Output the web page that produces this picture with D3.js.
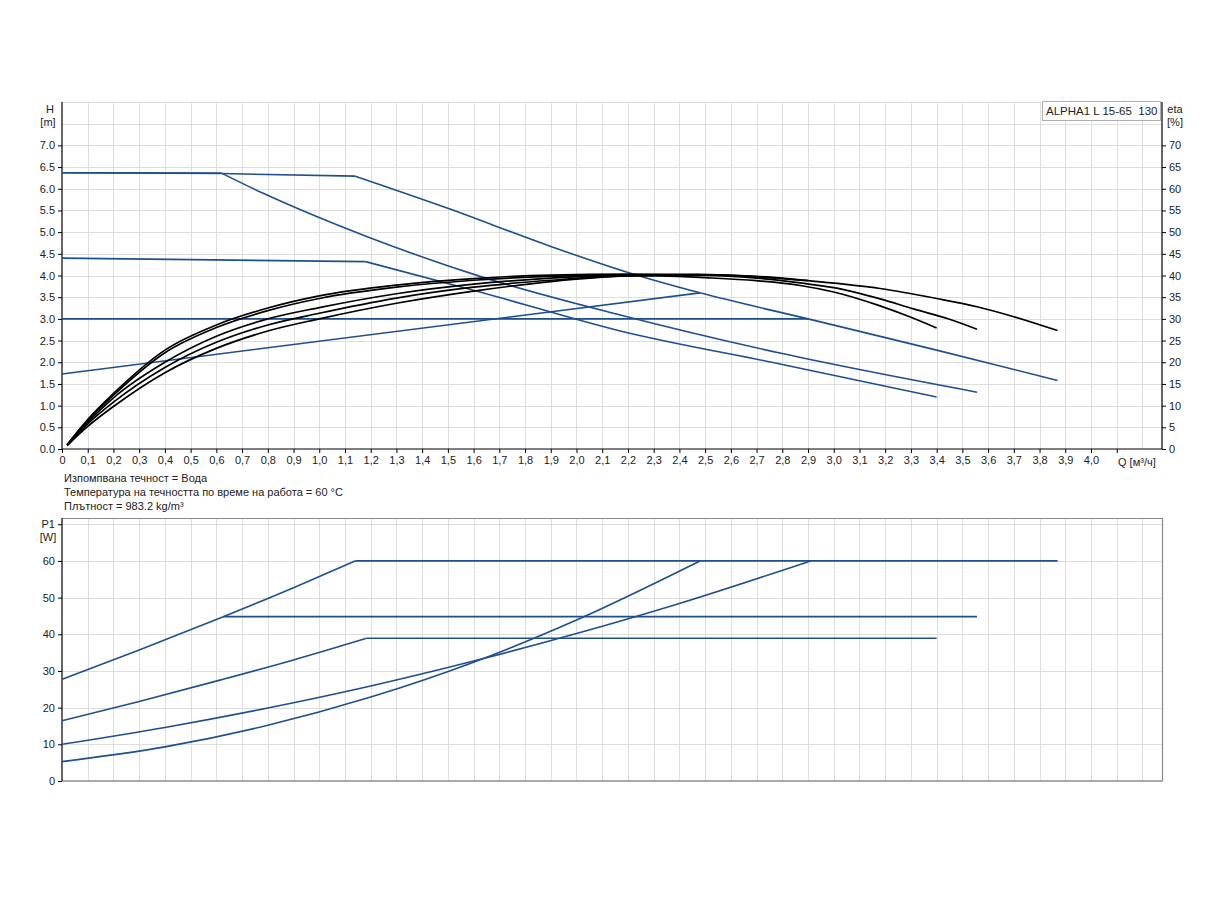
<!DOCTYPE html>
<html>
<head>
<meta charset="utf-8">
<script src="https://cdn.jsdelivr.net/npm/d3@7"></script>
<style>
  html, body { margin: 0; padding: 0; background: #fff; }
  svg { display: block; font-family: "Liberation Sans", Arial, sans-serif; }
</style>
</head>
<body>
<svg id="chart" width="1224" height="900"></svg>
<script>
// ---------- DATA ----------
const qTickValues = [0,0.1,0.2,0.3,0.4,0.5,0.6,0.7,0.8,0.9,1.0,1.1,1.2,1.3,1.4,1.5,1.6,1.7,1.8,1.9,2.0,2.1,2.2,2.3,2.4,2.5,2.6,2.7,2.8,2.9,3.0,3.1,3.2,3.3,3.4,3.5,3.6,3.7,3.8,3.9,4.0,4.1];
const qTickLabels = ["0","0,1","0,2","0,3","0,4","0,5","0,6","0,7","0,8","0,9","1,0","1,1","1,2","1,3","1,4","1,5","1,6","1,7","1,8","1,9","2,0","2,1","2,2","2,3","2,4","2,5","2,6","2,7","2,8","2,9","3,0","3,1","3,2","3,3","3,4","3,5","3,6","3,7","3,8","3,9","4,0",""];
const qGrid = [0.1,0.2,0.3,0.4,0.5,0.6,0.7,0.8,0.9,1.0,1.1,1.2,1.3,1.4,1.5,1.6,1.7,1.8,1.9,2.0,2.1,2.2,2.3,2.4,2.5,2.6,2.7,2.8,2.9,3.0,3.1,3.2,3.3,3.4,3.5,3.6,3.7,3.8,3.9,4.0,4.1,4.2];
const hTicks = [0,0.5,1.0,1.5,2.0,2.5,3.0,3.5,4.0,4.5,5.0,5.5,6.0,6.5,7.0];
const hGrid = [0.5,1.0,1.5,2.0,2.5,3.0,3.5,4.0,4.5,5.0,5.5,6.0,6.5,7.0,7.5,8.0];
const etaTicks = [0,5,10,15,20,25,30,35,40,45,50,55,60,65,70];
const pTicks = [0,10,20,30,40,50,60];
const pGrid = [10,20,30,40,50,60,70];

// H-Q curves [Q, H]
const h1Flat = [[0,6.37],[0.62,6.35],[1.14,6.29]];
const h1Drop = [[1.14,6.29],[1.5,5.55],[1.9,4.67],[2.2,4.07],[2.48,3.60],[2.90,3.00],[3.4,2.28],[3.87,1.58]];
const h2Flat = [[0,6.37],[0.62,6.36]];
const h2Drop = [[0.62,6.36],[0.78,5.90],[0.925,5.52],[1.184,4.90],[1.625,3.98],[2.17,3.09],[2.8,2.20],[3.557,1.31]];
const h3Flat = [[0,4.40],[1.18,4.32]];
const h3Drop = [[1.18,4.32],[1.625,3.62],[2.17,2.72],[2.8,1.95],[3.40,1.20]];
const hConst = [[0,3.0],[2.90,3.0]];
const hProp = [[0,1.73],[2.48,3.60]];

// efficiency curves [Q, eta %]
const etaMax = [[0.02,0.8],[0.1,5.2],[0.2,9.8],[0.4,17.6],[0.6,23.2],[0.8,27.2],[1.0,30.0],[1.3,33.6],[1.6,36.4],[1.9,38.6],[2.2,39.9],[2.48,40.2],[2.7,39.8],[2.90,38.8],[3.18,37.0],[3.4,34.7],[3.557,32.8],[3.7,30.5],[3.87,27.3]];
const etaMid = [[0.02,0.9],[0.1,5.8],[0.2,10.8],[0.4,18.8],[0.6,24.6],[0.8,28.6],[1.0,31.3],[1.3,34.8],[1.6,37.3],[1.9,38.9],[2.2,39.9],[2.5,40.0],[2.7,39.4],[2.87,38.3],[3.0,37.2],[3.18,34.6],[3.31,32.3],[3.45,29.9],[3.557,27.6]];
const etaLow = [[0.02,1.0],[0.1,6.6],[0.2,12.4],[0.4,22.2],[0.6,28.0],[0.8,31.9],[1.0,34.7],[1.3,37.3],[1.6,38.9],[1.9,39.8],[2.2,40.1],[2.5,39.5],[2.7,38.8],[2.87,37.7],[3.0,36.2],[3.18,33.0],[3.29,30.6],[3.40,27.9]];
const etaConst = [[0.02,0.9],[0.1,6.2],[0.2,11.8],[0.4,20.0],[0.6,26.0],[0.8,30.0],[1.0,32.6],[1.3,35.8],[1.6,38.0],[1.9,39.4],[2.2,40.1],[2.5,40.2],[2.7,39.7],[2.90,38.8]];
const etaProp = [[0.02,1.0],[0.1,6.8],[0.2,12.8],[0.4,22.8],[0.6,28.6],[0.8,32.5],[1.0,35.3],[1.3,37.8],[1.6,39.3],[1.9,40.1],[2.2,40.3],[2.48,40.2]];

// power curves [Q, P1 W]
const p1Rise = [[0,27.7],[0.3,35.7],[0.627,44.8],[0.9,52.7],[1.14,60.0]];
const p1Flat = [[1.14,60.0],[3.87,60.0]];
const p2Flat = [[0.627,44.8],[3.557,44.8]];
const p3Rise = [[0,16.45],[0.3,21.7],[0.614,27.5],[0.9,33.0],[1.184,38.9]];
const p3Flat = [[1.184,38.9],[3.40,38.9]];
const pConst = [[0,10.0],[0.4,14.6],[0.8,19.9],[1.2,25.9],[1.6,32.7],[2.0,40.2],[2.4,48.4],[2.91,60.0]];
const pProp = [[0,5.27],[0.4,9.3],[0.8,15.2],[1.2,22.9],[1.6,32.4],[2.0,43.9],[2.48,60.0]];

const noteLines = ["Изпомпвана течност = Вода", "Температура на течността по време на работа = 60 °C", "Плътност = 983.2 kg/m³"];
const legendText = "ALPHA1 L 15-65  130";

// ---------- LAYOUT ----------
const svg = d3.select("#chart");
const L = 62, R = 1162;
const topT = 102, topB = 449;
const botT = 518, botB = 781;
const BLUE = "#1e4f8e";
const GRID = "#dedede";
const FONT = 11;

const x = d3.scaleLinear().domain([0, 4.276]).range([L, R]);
const yH = d3.scaleLinear().domain([0, 8]).range([topB, topT]);
const yEta = d3.scaleLinear().domain([0, 80]).range([topB, topT]);
const yP = d3.scaleLinear().domain([0, 71.7]).range([botB, botT]);

// ---------- TOP CHART ----------
const gTop = svg.append("g");
gTop.append("g").selectAll("line").data(qGrid).join("line")
  .attr("x1", d => Math.round(x(d)) + 0.5).attr("x2", d => Math.round(x(d)) + 0.5)
  .attr("y1", topT).attr("y2", topB).attr("stroke", GRID).attr("stroke-width", 1);
gTop.append("g").selectAll("line").data(hGrid).join("line")
  .attr("x1", L).attr("x2", R)
  .attr("y1", d => Math.round(yH(d)) + 0.5).attr("y2", d => Math.round(yH(d)) + 0.5)
  .attr("stroke", GRID).attr("stroke-width", 1);

// axes
const axL = d3.axisLeft(yH).tickValues(hTicks).tickFormat(d3.format(".1f")).tickSize(4).tickPadding(3);
const gL = gTop.append("g").attr("transform", `translate(${L},0)`).call(axL);
const axR = d3.axisRight(yEta).tickValues(etaTicks).tickFormat(d3.format("d")).tickSize(4).tickPadding(3);
const gR = gTop.append("g").attr("transform", `translate(${R},0)`).call(axR);
const axB = d3.axisBottom(x).tickValues(qTickValues).tickFormat((d, i) => qTickLabels[i]).tickSize(4).tickPadding(3);
const gB = gTop.append("g").attr("transform", `translate(0,${topB})`).call(axB);
[gL, gR, gB].forEach(g => {
  g.select(".domain").attr("stroke", "#000").attr("stroke-width", 1.2);
  g.selectAll(".tick line").attr("stroke", "#000");
  g.selectAll("text").attr("font-size", FONT).attr("fill", "#222").attr("font-family", '"Liberation Sans", Arial, sans-serif');
});
gL.select(".domain").attr("d", `M0,${topT}V${topB}`);
gR.select(".domain").attr("d", `M0,${topT}V${topB}`);
gB.select(".domain").attr("d", `M${L},0H${R}`);

// axis titles
const txt = (g, s, xx, yy, anchor) => g.append("text").attr("x", xx).attr("y", yy)
  .attr("font-size", FONT).attr("fill", "#222").attr("text-anchor", anchor || "start").text(s);
txt(gTop, "H", 50, 113, "middle");
txt(gTop, "[m]", 48, 126, "middle");
txt(gTop, "eta", 1175, 113, "middle");
txt(gTop, "[%]", 1175, 126, "middle");
txt(gTop, "Q [м³/ч]", 1118, 466, "start");

// legend box
gTop.append("rect").attr("x", 1042.5).attr("y", 101.5).attr("width", 118).attr("height", 19)
  .attr("fill", "#fff").attr("stroke", "#b0b0b0");
gTop.append("text").attr("x", 1046).attr("y", 115).attr("font-size", FONT + 0.5).attr("fill", "#222")
  .style("white-space", "pre").attr("xml:space", "preserve").text(legendText);

const lineH = d3.line().x(d => x(d[0])).y(d => yH(d[1])).curve(d3.curveMonotoneX);
const lineEta = d3.line().x(d => x(d[0])).y(d => yEta(d[1])).curve(d3.curveMonotoneX);
const lineP = d3.line().x(d => x(d[0])).y(d => yP(d[1])).curve(d3.curveMonotoneX);

const hCurves = [h1Flat, h1Drop, h2Flat, h2Drop, h3Flat, h3Drop, hConst, hProp];
gTop.append("g").selectAll("path").data(hCurves).join("path")
  .attr("d", lineH).attr("fill", "none").attr("stroke", BLUE).attr("stroke-width", 1.6);

const etaCurves = [etaMax, etaMid, etaLow, etaConst, etaProp];
gTop.append("g").selectAll("path").data(etaCurves).join("path")
  .attr("d", lineEta).attr("fill", "none").attr("stroke", "#000").attr("stroke-width", 1.7);

// notes
noteLines.forEach((s, i) => txt(svg, s, 64, 482 + i * 14, "start"));

// ---------- BOTTOM CHART ----------
const gBot = svg.append("g");
gBot.append("g").selectAll("line").data(qGrid).join("line")
  .attr("x1", d => Math.round(x(d)) + 0.5).attr("x2", d => Math.round(x(d)) + 0.5)
  .attr("y1", botT).attr("y2", botB).attr("stroke", GRID).attr("stroke-width", 1);
gBot.append("g").selectAll("line").data(pGrid).join("line")
  .attr("x1", L).attr("x2", R)
  .attr("y1", d => Math.round(yP(d)) + 0.5).attr("y2", d => Math.round(yP(d)) + 0.5)
  .attr("stroke", GRID).attr("stroke-width", 1);
// frame
gBot.append("path").attr("d", `M${L},${botT + 0.5}H${R + 0.5}V${botB}`).attr("fill", "none")
  .attr("stroke", "#8a8a8a").attr("stroke-width", 1.2);
gBot.append("line").attr("x1", L).attr("x2", R + 0.5).attr("y1", botB).attr("y2", botB)
  .attr("stroke", "#555").attr("stroke-width", 1.2);

const axP = d3.axisLeft(yP).tickValues(pTicks.concat([70])).tickFormat(d => d === 70 ? "P1" : d).tickSize(4).tickPadding(3);
const gP = gBot.append("g").attr("transform", `translate(${L},0)`).call(axP);
gP.select(".domain").attr("d", `M0,${botT}V${botB}`).attr("stroke", "#000").attr("stroke-width", 1.2);
gP.selectAll(".tick line").attr("stroke", "#000");
gP.selectAll("text").attr("font-size", FONT).attr("fill", "#222").attr("font-family", '"Liberation Sans", Arial, sans-serif');
txt(gBot, "[W]", 48, 541, "middle");

const pCurves = [p1Rise, p1Flat, p2Flat, p3Rise, p3Flat, pConst, pProp];
gBot.append("g").selectAll("path").data(pCurves).join("path")
  .attr("d", lineP).attr("fill", "none").attr("stroke", BLUE).attr("stroke-width", 1.6);
</script>
</body>
</html>
